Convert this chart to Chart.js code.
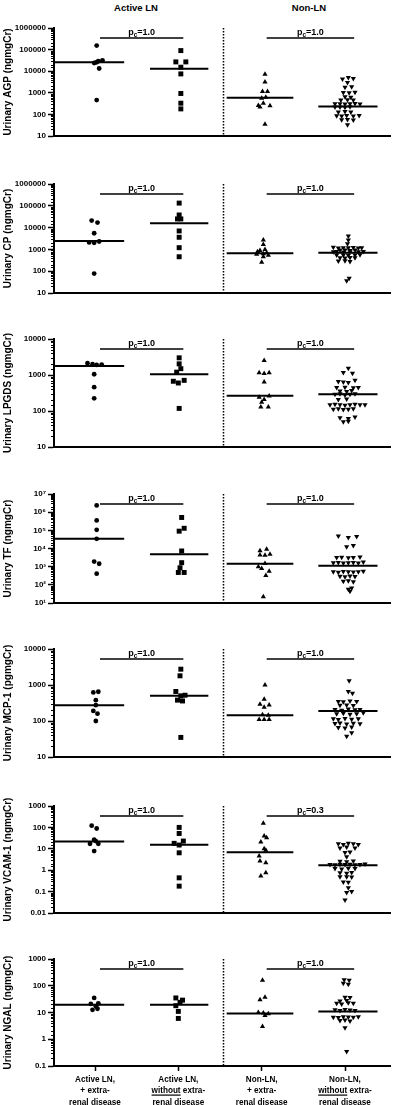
<!DOCTYPE html>
<html>
<head>
<meta charset="utf-8">
<script src="https://cdn.jsdelivr.net/npm/chart.js@4.4.1/dist/chart.umd.min.js"></script>
<style>
html, body { margin: 0; padding: 0; background: #fff; }
body { width: 395px; height: 1105px; position: relative; overflow: hidden; font-family: "Liberation Sans", Arial, sans-serif; }
canvas { position: absolute; left: 0; }
.head { position: absolute; top: 2px; font-weight: bold; font-size: 9.5px; line-height: 11px; transform: translateX(-50%); white-space: nowrap; color: #000; }
</style>
</head>
<body>
<div class="head" style="left:136px">Active LN</div>
<div class="head" style="left:309px">Non-LN</div>
<script>
// ---------- DATA ----------
const groupLabels = [
    ["Active LN,", "+ extra-", "renal disease"],
    ["Active LN,", "without extra-", "renal disease"],
    ["Non-LN,", "+ extra-", "renal disease"],
    ["Non-LN,", "without extra-", "renal disease"]
];

const panelTitles = [
    "Urinary AGP (ngmgCr)", "Urinary CP (ngmgCr)", "Urinary LPGDS (ngmgCr)", "Urinary TF (ngmgCr)",
    "Urinary MCP-1 (pgmgCr)", "Urinary VCAM-1 (ngmgCr)", "Urinary NGAL (ngmgCr)"
];

// AGP
const agpValues = [
    [153000, 24000, 29000, 32000, 26000, 13300, 460],
    [90000, 27000, 27000, 15300, 7500, 930, 330, 180],
    [7300, 3200, 1150, 1150, 620, 560, 330, 260, 250, 220, 35],
    [4300, 5100, 4600, 3000, 1800, 1900, 1030, 1000, 1050, 650, 630, 470, 480, 470, 310, 310, 300, 310, 320, 300, 220, 220, 215, 225, 130, 135, 130, 87, 85, 88, 85, 88, 56, 58, 55, 33]
];
const agpJitter = [
    [0.02, -0.01, 0.04, 0.09, 0.02, 0.05, 0.02],
    [0.03, -0.03, 0.09, 0.03, 0.03, 0.03, 0.03, 0.03],
    [0.04, 0.04, 0.01, 0.07, 0.05, 0.0, 0.02, -0.04, 0.1, -0.02, 0.04],
    [-0.03, 0.04, 0.1, 0.03, 0.0, 0.08, -0.02, 0.05, 0.12, 0.0, 0.07, -0.05, 0.03, 0.1, -0.12, -0.06, 0.0, 0.06, 0.12, 0.18, -0.12, -0.06, 0.0, 0.06, -0.08, 0.0, 0.07, -0.1, -0.04, 0.02, 0.1, 0.17, -0.04, 0.03, 0.1, 0.03]
];
const agpMedians = [26000, 12900, 590, 235];
const agpP = ["1.0", "1.0"];
const agpTicks = ["10", "100", "1000", "10000", "100000", "1000000"];

// CP
const cpValues = [
    [21000, 17000, 5500, 2100, 2000, 2300, 78],
    [133000, 38000, 25000, 25000, 7000, 3600, 1200, 460],
    [2700, 1700, 1000, 900, 770, 700, 640, 600, 540, 460, 260],
    [4100, 2700, 1800, 1250, 1150, 1200, 1180, 1220, 1150, 1200, 930, 950, 900, 930, 780, 800, 760, 790, 770, 800, 550, 560, 540, 550, 570, 410, 400, 420, 410, 290, 300, 280, 48, 36]
];
const cpJitter = [
    [-0.04, 0.03, -0.01, -0.07, -0.01, 0.05, -0.01],
    [0.01, 0.01, -0.01, 0.03, 0.01, 0.01, 0.01, 0.01],
    [0.02, 0.02, 0.04, -0.02, -0.05, 0.06, 0.02, -0.06, 0.08, 0.02, 0.0],
    [0.04, 0.04, 0.03, -0.14, -0.08, -0.02, 0.04, 0.1, 0.16, 0.2, -0.06, 0.0, 0.06, 0.12, -0.14, -0.1, -0.02, 0.06, 0.16, 0.22, -0.1, -0.02, 0.04, 0.12, 0.18, -0.06, 0.0, 0.06, 0.12, -0.08, 0.0, 0.06, 0.05, 0.02]
];
const cpMedians = [2400, 15800, 660, 700];
const cpP = ["1.0", "1.0"];
const cpTicks = ["10", "100", "1000", "10000", "100000", "1000000"];

// LPGDS
const lpgdsValues = [
    [2130, 2000, 1900, 1950, 1050, 460, 225],
    [3000, 2040, 1500, 1200, 670, 600, 710, 118],
    [2520, 1150, 1100, 1150, 640, 240, 210, 260, 175, 130, 130],
    [1550, 1170, 1120, 660, 640, 620, 720, 450, 460, 440, 450, 360, 350, 370, 290, 300, 280, 290, 300, 210, 215, 150, 155, 150, 145, 150, 155, 150, 148, 112, 115, 110, 112, 115, 65, 62, 68, 50, 52]
];
const lpgdsJitter = [
    [-0.09, -0.03, 0.02, 0.08, -0.01, -0.01, -0.01],
    [0.01, 0.01, 0.03, -0.02, -0.06, 0.0, 0.07, 0.01],
    [0.03, -0.03, 0.03, 0.09, 0.03, -0.03, 0.03, 0.09, 0.0, -0.01, 0.08],
    [0.04, -0.02, 0.09, -0.08, -0.02, 0.04, 0.12, -0.1, 0.0, 0.1, 0.16, -0.06, 0.02, 0.08, -0.12, -0.06, 0.0, 0.06, 0.12, -0.08, 0.02, -0.18, -0.12, -0.06, 0.0, 0.06, 0.12, 0.18, 0.24, -0.14, -0.08, -0.02, 0.04, 0.1, -0.06, 0.04, 0.12, -0.02, 0.04]
];
const lpgdsMedians = [1790, 1050, 265, 290];
const lpgdsP = ["1.0", "1.0"];
const lpgdsTicks = ["10", "100", "1000", "10000"];

// TF
const tfValues = [
    [2350000, 350000, 107000, 34000, 1900, 1450, 410],
    [510000, 90000, 130000, 7300, 1660, 870, 480, 480],
    [7500, 9000, 4400, 4300, 4900, 1500, 1000, 800, 560, 330, 22],
    [49000, 40000, 46000, 12600, 14400, 3200, 3300, 3100, 3200, 3400, 1660, 1700, 1600, 1650, 1700, 1600, 1800, 520, 500, 540, 520, 510, 530, 560, 300, 280, 310, 290, 160, 170, 150, 67, 58, 45]
];
const tfJitter = [
    [0.02, 0.02, 0.02, 0.02, -0.01, 0.05, 0.02],
    [0.04, 0.01, 0.07, 0.04, 0.04, 0.02, 0.0, 0.07],
    [-0.02, 0.06, -0.02, 0.04, 0.1, 0.04, -0.04, 0.0, 0.09, 0.05, 0.02],
    [-0.08, 0.04, 0.14, 0.02, 0.1, -0.1, -0.04, 0.04, 0.1, 0.18, -0.14, -0.08, -0.02, 0.04, 0.1, 0.16, 0.22, -0.14, -0.08, -0.02, 0.04, 0.1, 0.16, 0.22, -0.06, 0.0, 0.06, 0.12, -0.02, 0.04, 0.1, 0.08, 0.04, 0.06]
];
const tfMedians = [34000, 4800, 1450, 1120];
const tfP = ["1.0", "1.0"];
const tfTicks = ["10¹", "10²", "10³", "10⁴", "10⁵", "10⁶", "10⁷"];

// MCP-1
const mcpValues = [
    [620, 650, 380, 275, 190, 160, 100],
    [2750, 1800, 660, 500, 520, 380, 360, 35],
    [1000, 400, 290, 280, 240, 150, 145, 110, 110, 110],
    [1320, 660, 590, 350, 340, 360, 350, 275, 280, 270, 210, 200, 215, 205, 210, 160, 165, 155, 160, 170, 115, 110, 118, 112, 115, 85, 88, 82, 86, 84, 66, 64, 68, 47, 38]
];
const mcpJitter = [
    [-0.02, 0.04, 0.01, 0.01, -0.02, 0.03, 0.01],
    [0.03, 0.02, -0.03, 0.03, 0.08, -0.01, 0.05, 0.03],
    [0.04, 0.03, -0.02, 0.09, 0.03, 0.01, 0.08, -0.03, 0.03, 0.09],
    [0.05, 0.04, 0.09, -0.08, -0.02, 0.06, 0.14, -0.06, 0.02, 0.1, -0.12, -0.04, 0.04, 0.12, 0.18, -0.1, -0.02, 0.06, 0.14, 0.22, -0.14, -0.08, 0.0, 0.08, 0.16, -0.12, -0.06, 0.02, 0.1, 0.18, -0.08, 0.0, 0.08, 0.08, 0.02]
];
const mcpMedians = [275, 500, 145, 190];
const mcpP = ["1.0", "1.0"];
const mcpTicks = ["10", "100", "1000", "10000"];

// VCAM-1
const vcamValues = [
    [120, 89, 27, 23, 17, 17, 7.8],
    [100, 52, 18, 15, 23, 6.5, 0.44, 0.18],
    [155, 40, 33, 21, 10, 8.5, 4.6, 2.7, 2.2, 0.75, 0.54],
    [17, 16, 18, 17, 16, 11, 12, 11, 6.8, 7, 4.2, 2.6, 2.5, 2.7, 1.85, 1.8, 1.9, 1.85, 1.9, 1.8, 1.85, 1.95, 1.2, 1.15, 1.25, 1.2, 0.75, 0.72, 0.78, 0.49, 0.5, 0.48, 0.28, 0.27, 0.15, 0.1, 0.09, 0.04]
];
const vcamJitter = [
    [-0.04, 0.02, -0.01, 0.01, -0.06, 0.04, -0.01],
    [0.01, 0.01, -0.05, 0.01, 0.06, 0.01, 0.01, 0.01],
    [0.02, 0.03, 0.06, -0.01, 0.03, 0.05, -0.03, -0.02, 0.05, 0.05, -0.01],
    [-0.08, -0.02, 0.04, 0.1, 0.16, -0.06, 0.02, 0.12, 0.0, 0.06, 0.02, -0.06, 0.02, 0.1, -0.18, -0.12, -0.06, 0.0, 0.06, 0.12, 0.18, 0.24, -0.12, -0.04, 0.04, 0.12, -0.06, 0.02, 0.08, -0.06, 0.02, 0.08, -0.02, 0.04, 0.04, 0.08, 0.02, 0.0]
];
const vcamMedians = [22, 15.5, 6.9, 1.7];
const vcamP = ["1.0", "0.3"];
const vcamTicks = ["0.01", "0.1", "1", "10", "100", "1000"];

// NGAL
const ngalValues = [
    [35, 22, 21, 17, 12.6, 13.8],
    [35, 29, 24, 18, 11, 6],
    [160, 37, 30, 10, 9.5, 9, 7.7, 3],
    [168, 160, 125, 115, 37, 36, 27, 28, 22, 21, 23, 22, 12.6, 12, 13, 12.5, 12, 6.7, 6.5, 7, 6.8, 6.6, 6.9, 5, 5.2, 4.8, 2.7, 0.35]
];
const ngalJitter = [
    [-0.01, 0.04, -0.05, 0.01, -0.03, 0.03],
    [-0.03, 0.05, 0.02, -0.03, 0.0, 0.0],
    [0.01, 0.04, -0.02, -0.04, 0.02, 0.08, 0.04, 0.01],
    [-0.01, 0.05, -0.02, 0.04, 0.0, 0.06, -0.06, 0.02, -0.1, -0.04, 0.04, 0.1, -0.12, -0.06, 0.0, 0.06, 0.12, -0.14, -0.08, -0.02, 0.04, 0.1, 0.16, -0.06, 0.0, 0.06, 0.0, 0.02]
];
const ngalMedians = [19.5, 19.5, 9.2, 11];
const ngalP = ["1.0", "1.0"];
const ngalTicks = ["0.1", "1", "10", "100", "1000"];

// ---------- LAYOUT ----------
const FONT = '"Liberation Sans", Arial, sans-serif';
Chart.defaults.font.family = FONT;
Chart.defaults.color = "#000";

const panelTops = [28, 184, 339, 494, 649, 806, 959];
const panelBottoms = [136, 293, 447, 603, 757, 913, 1066];
const medLo = [-0.48, -0.34, -0.42, -0.32];
const medHi = [0.35, 0.36, 0.38, 0.39];
const pBars = [[1.06, 2.06], [3.06, 4.11]];
const dividerAt = 2.53;
const markers = [
    { style: "circle", radius: 2.4, rotation: 0 },
    { style: "rect", radius: 3.5, rotation: 0 },
    { style: "triangle", radius: 3, rotation: 0 },
    { style: "triangle", radius: 3, rotation: 180 }
];

function isDecade(v) {
    const e = Math.log10(v);
    return Math.abs(e - Math.round(e)) < 1e-6;
}

function drawP(ctx, cx, base, val) {
    const big = "bold 9px " + FONT, small = "bold 6.5px " + FONT;
    ctx.font = big;
    const wp = ctx.measureText("p").width;
    const wr = ctx.measureText("=" + val).width;
    ctx.font = small;
    const wc = ctx.measureText("c").width;
    const x0 = cx - (wp + wc + wr) / 2;
    ctx.textAlign = "left";
    ctx.textBaseline = "alphabetic";
    ctx.font = big;
    ctx.fillText("p", x0, base);
    ctx.font = small;
    ctx.fillText("c", x0 + wp, base + 2);
    ctx.font = big;
    ctx.fillText("=" + val, x0 + wp + wc, base);
}

function drawGroupLabels(ctx, x, axisY) {
    ctx.font = "bold 9.5px " + FONT;
    ctx.textBaseline = "middle";
    ctx.textAlign = "left";
    groupLabels.forEach((lines, g) => {
        const cx = x.getPixelForValue(g + 1);
        lines.forEach((line, k) => {
            ctx.save();
            ctx.translate(cx, axisY + 13 + k * 11.5);
            ctx.scale(0.86, 1);
            const w = ctx.measureText(line).width;
            ctx.fillText(line, -w / 2, 0);
            if (line.startsWith("without")) {
                ctx.fillRect(-w / 2, 4, ctx.measureText("without").width, 1.2);
            }
            ctx.restore();
        });
    });
}

// ---------- PLUGIN ----------
const decor = {
    id: "decor",
    afterDraw(chart, args, o) {
        const { ctx, chartArea: a, scales: { x, y } } = chart;
        ctx.save();
        ctx.strokeStyle = "#000";
        ctx.fillStyle = "#000";

        // minor log ticks
        ctx.lineWidth = 1;
        y.ticks.forEach(t => {
            if (isDecade(t.value)) return;
            const py = Math.round(y.getPixelForValue(t.value)) + 0.5;
            ctx.beginPath();
            ctx.moveTo(a.left - 3, py);
            ctx.lineTo(a.left, py);
            ctx.stroke();
        });

        // dotted divider
        const dx = Math.round(x.getPixelForValue(dividerAt)) + 0.5;
        ctx.lineWidth = 1.5;
        ctx.setLineDash([1.5, 1.5]);
        ctx.beginPath();
        ctx.moveTo(dx, a.top);
        ctx.lineTo(dx, a.bottom);
        ctx.stroke();
        ctx.setLineDash([]);

        // p-value bars
        const by = Math.round(a.top + 10);
        ctx.lineWidth = 1.5;
        pBars.forEach((b, k) => {
            const x0 = x.getPixelForValue(b[0]), x1 = x.getPixelForValue(b[1]);
            ctx.beginPath();
            ctx.moveTo(x0, by);
            ctx.lineTo(x1, by);
            ctx.stroke();
            drawP(ctx, (x0 + x1) / 2, by - 3, o.p[k]);
        });

        if (o.last) drawGroupLabels(ctx, x, a.bottom);
        ctx.restore();
    }
};

// ---------- CHARTS ----------
function makePanel(i, values, jitter, medians, pLabels, ticks, minExp) {
    const top = panelTops[i], bottom = panelBottoms[i], last = i === 6;
    const H = last ? 1105 - (top - 12) : bottom - top + 22;
    const cv = document.createElement("canvas");
    cv.width = 395;
    cv.height = H;
    cv.style.top = (top - 12) + "px";
    cv.style.width = "395px";
    cv.style.height = H + "px";
    document.body.appendChild(cv);

    const datasets = [];
    values.forEach((vals, g) => {
        const m = markers[g];
        datasets.push({
            data: vals.map((v, k) => ({ x: g + 1 + jitter[g][k], y: v })),
            pointStyle: m.style,
            pointRadius: m.radius,
            pointRotation: m.rotation,
            backgroundColor: "#000",
            borderColor: "#000",
            borderWidth: 0
        });
        datasets.push({
            data: [{ x: g + 1 + medLo[g], y: medians[g] }, { x: g + 1 + medHi[g], y: medians[g] }],
            showLine: true,
            borderColor: "#000",
            borderWidth: 2,
            pointRadius: 0
        });
    });

    const maxExp = minExp + ticks.length - 1;

    return new Chart(cv, {
        type: "scatter",
        data: { datasets: datasets },
        options: {
            responsive: false,
            animation: false,
            events: [],
            layout: { padding: { top: 12, bottom: last ? 0 : 10, left: 0, right: 5 } },
            plugins: {
                legend: { display: false },
                tooltip: { enabled: false },
                decor: { p: pLabels, last: last }
            },
            scales: {
                x: {
                    type: "linear",
                    min: 0.508,
                    max: 4.54,
                    afterFit: s => { s.height = last ? 39 : 0; },
                    afterBuildTicks: s => { s.ticks = [1, 2, 3, 4].map(v => ({ value: v })); },
                    border: { display: true, color: "#000", width: 2 },
                    grid: { display: last, drawOnChartArea: false, drawTicks: true, tickLength: 5, tickWidth: 1.5, tickColor: "#000" },
                    ticks: { display: false }
                },
                y: {
                    type: "logarithmic",
                    min: Math.pow(10, minExp),
                    max: Math.pow(10, maxExp),
                    afterFit: s => { s.width = 54; },
                    border: { display: true, color: "#000", width: 2 },
                    grid: {
                        display: true,
                        drawOnChartArea: false,
                        drawTicks: true,
                        tickLength: 6,
                        tickWidth: 1.5,
                        tickColor: c => (c.tick && isDecade(c.tick.value)) ? "#000" : "rgba(0,0,0,0)"
                    },
                    ticks: {
                        autoSkip: false,
                        color: "#000",
                        padding: 2,
                        font: { size: 8, weight: "bold" },
                        callback: v => isDecade(v) ? ticks[Math.round(Math.log10(v)) - minExp] : ""
                    },
                    title: {
                        display: true,
                        text: panelTitles[i],
                        color: "#000",
                        font: { size: 10, weight: "bold" },
                        padding: { top: 2, bottom: 0 }
                    }
                }
            }
        },
        plugins: [decor]
    });
}

makePanel(0, agpValues, agpJitter, agpMedians, agpP, agpTicks, 1);
makePanel(1, cpValues, cpJitter, cpMedians, cpP, cpTicks, 1);
makePanel(2, lpgdsValues, lpgdsJitter, lpgdsMedians, lpgdsP, lpgdsTicks, 1);
makePanel(3, tfValues, tfJitter, tfMedians, tfP, tfTicks, 1);
makePanel(4, mcpValues, mcpJitter, mcpMedians, mcpP, mcpTicks, 1);
makePanel(5, vcamValues, vcamJitter, vcamMedians, vcamP, vcamTicks, -2);
makePanel(6, ngalValues, ngalJitter, ngalMedians, ngalP, ngalTicks, -1);
</script>
</body>
</html>
